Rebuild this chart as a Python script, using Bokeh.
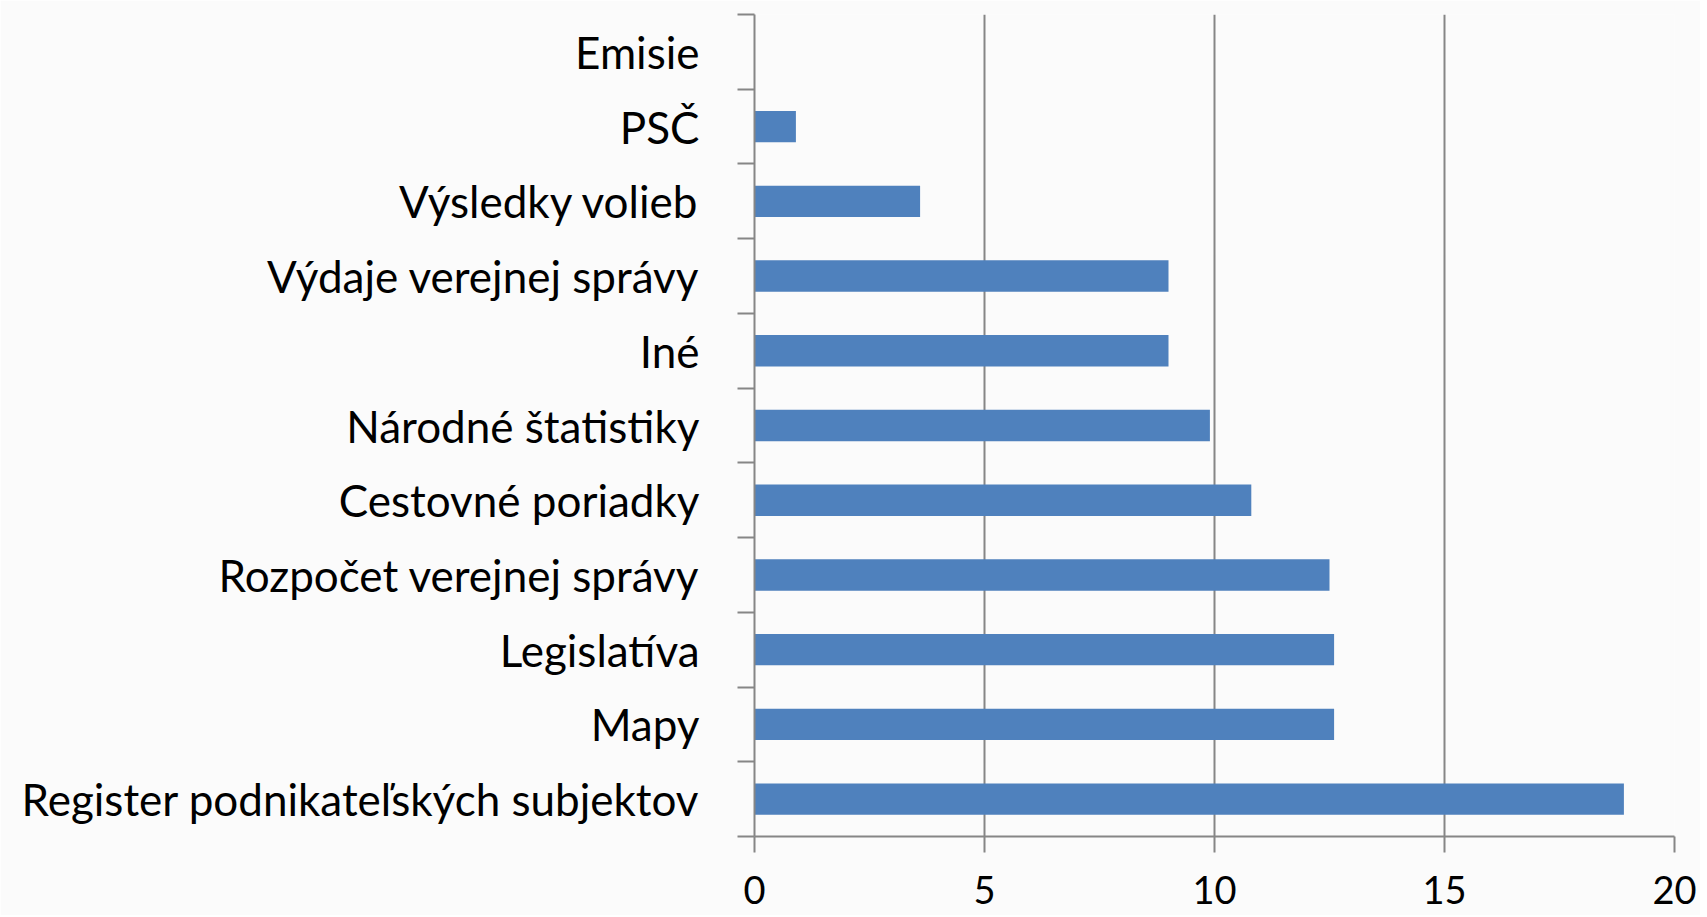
from bokeh.plotting import figure
from bokeh.models import FixedTicker, Range1d, ColumnDataSource
from bokeh.embed import file_html
from bokeh.resources import INLINE

# Data (bottom to top)
categories = [
    "Register podnikateľských subjektov",
    "Mapy",
    "Legislatíva",
    "Rozpočet verejnej správy",
    "Cestovné poriadky",
    "Národné štatistiky",
    "Iné",
    "Výdaje verejnej správy",
    "Výsledky volieb",
    "PSČ",
    "Emisie",
]
values = [18.9, 12.6, 12.6, 12.5, 10.8, 9.9, 9.0, 9.0, 3.6, 0.9, 0.0]
x_ticks = [0, 5, 10, 15, 20]

n = len(categories)
centers = [i + 0.5 for i in range(n)]
bounds = list(range(n + 1))

src = ColumnDataSource(dict(y=centers, right=values))

p = figure(width=1700, height=915, output_backend="svg", toolbar_location=None,
           x_range=Range1d(0, 20), y_range=Range1d(0, n),
           min_border_left=754, min_border_right=26, min_border_top=14, min_border_bottom=79)
p.background_fill_color = "#fbfbfb"
p.border_fill_color = "#fbfbfb"
p.outline_line_color = None

p.hbar(y="y", right="right", left=0, height=0.42, source=src,
       fill_color="#4f81bd", line_color=None)

axis_col = "#868686"

# x axis
xa = p.xaxis[0]
xa.ticker = FixedTicker(ticks=x_ticks)
xa.axis_line_color = axis_col
xa.axis_line_width = 2
xa.major_tick_line_color = axis_col
xa.major_tick_line_width = 2
xa.major_tick_out = 16
xa.major_tick_in = 0
xa.minor_tick_line_color = None
xa.major_label_text_font = "Lato"
xa.major_label_text_font_size = "38px"
xa.major_label_text_color = "black"
xa.major_label_standoff = 23

# y axis
ya = p.yaxis[0]
ya.ticker = FixedTicker(ticks=centers, minor_ticks=bounds)
ya.major_label_overrides = {c: lab for c, lab in zip(centers, categories)}
ya.axis_line_color = axis_col
ya.axis_line_width = 2
ya.major_tick_line_color = None
ya.major_tick_out = 0
ya.major_tick_in = 0
ya.minor_tick_line_color = axis_col
ya.minor_tick_line_width = 2
ya.minor_tick_out = 17
ya.minor_tick_in = 0
ya.major_label_text_font = "Lato"
ya.major_label_text_font_size = "44px"
ya.major_label_text_color = "black"
ya.major_label_standoff = 38

p.xgrid.ticker = FixedTicker(ticks=x_ticks)
p.xgrid.grid_line_color = axis_col
p.xgrid.grid_line_width = 2
p.ygrid.grid_line_color = None

open("out.html", "w").write(file_html(p, INLINE))
